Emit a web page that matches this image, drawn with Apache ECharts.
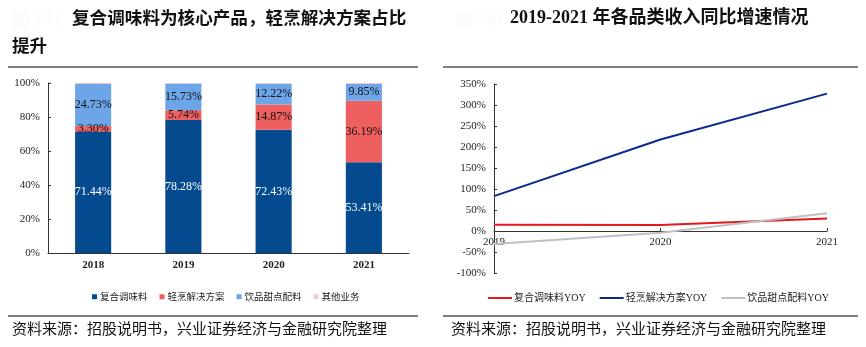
<!DOCTYPE html>
<html><head><meta charset="utf-8">
<script src="https://cdn.jsdelivr.net/npm/echarts@6/dist/echarts.min.js"></script>
<style>html,body{margin:0;padding:0;background:#fff}#c{width:866px;height:347px}</style>
</head><body><div id="c"></div>
<script>
const years = ['2018','2019','2020','2021'];
const seasoning = [71.44, 78.28, 72.43, 53.41];
const cooking = [3.30, 5.74, 14.87, 36.19];
const drinks = [24.73, 15.73, 12.22, 9.85];
const other = [0.53, 0.25, 0.48, 0.55];
const barNames = ['复合调味料','轻烹解决方案','饮品甜点配料','其他业务'];

const yoyYears = ['2019','2020','2021'];
const seasoningYoY = [15, 14, 30];
const cookingYoY = [83, 218, 327];
const drinksYoY = [-31, -4, 42];
const lineNames = ['复合调味料YOY','轻烹解决方案YOY','饮品甜点配料YOY'];

const serif = '"Liberation Serif", "Times New Roman", serif';
const cjk = '"Noto Sans CJK SC", sans-serif';
const barColors = ['#044A8F','#EE5F5F','#6CA6E8','#F7C6CE'];
const lineColors = ['#E3191C','#0B2A8C','#C0C0C0'];

const chart = echarts.init(document.getElementById('c'));
function barLabel(color){
  return {show:true, position:'inside', color:color, fontFamily:serif, fontSize:12,
    formatter: p => p.value.toFixed(2) + '%'};
}
chart.setOption({
  animation:false,
  textStyle:{fontFamily:serif},
  graphic:[
    {type:'text', left:12, top:10, style:{text:'图 34：', fill:'#fafafa', font:'bold 17px '+cjk}},
    {type:'text', left:72, top:9, style:{text:'复合调味料为核心产品，轻烹解决方案占比', fill:'#111', font:'bold 17.6px '+cjk}},
    {type:'text', left:12, top:37, style:{text:'提升', fill:'#111', font:'bold 17.6px '+cjk}},
    {type:'text', left:455, top:10, style:{text:'图 35：', fill:'#fafafa', font:'bold 17px '+cjk}},
    {type:'text', left:510, top:9, style:{text:'2019-2021 年各品类收入同比增速情况', fill:'#111', font:'bold 18px "Liberation Serif", '+cjk}},
    {type:'line', shape:{x1:8,y1:67,x2:418,y2:67}, style:{stroke:'#555', lineWidth:1.5}},
    {type:'line', shape:{x1:443,y1:67,x2:858,y2:67}, style:{stroke:'#555', lineWidth:1.5}},
    {type:'line', shape:{x1:8,y1:316,x2:418,y2:316}, style:{stroke:'#555', lineWidth:1.5}},
    {type:'line', shape:{x1:443,y1:316,x2:858,y2:316}, style:{stroke:'#555', lineWidth:1.5}},
    {type:'text', left:12, top:321, style:{text:'资料来源：招股说明书，兴业证券经济与金融研究院整理', fill:'#111', font:'15px '+cjk}},
    {type:'text', left:451, top:321, style:{text:'资料来源：招股说明书，兴业证券经济与金融研究院整理', fill:'#111', font:'15px '+cjk}}
  ],
  legend:[
    {data:barNames, left:87, top:287, itemWidth:5, itemHeight:5, itemGap:12, icon:'rect',
      textStyle:{fontFamily:cjk, fontSize:9.5, color:'#222', padding:[0,0,0,-2]}},
    {data:lineNames, left:483, top:288, itemWidth:24, itemHeight:2, itemGap:14, icon:'rect',
      textStyle:{fontFamily:'"Liberation Serif", '+cjk, fontSize:10, color:'#222', padding:[0,0,0,-3]}}
  ],
  grid:[
    {left:48, right:457, top:83, bottom:94},
    {left:494, right:39, top:84, bottom:74}
  ],
  xAxis:[
    {type:'category', gridIndex:0, data:years,
      axisLine:{lineStyle:{color:'#333'}}, axisTick:{show:false},
      axisLabel:{color:'#222', fontSize:11, fontWeight:'bold', fontFamily:serif, margin:7}},
    {type:'category', gridIndex:1, data:yoyYears, boundaryGap:false, offset:-42,
      axisLine:{onZero:false, lineStyle:{color:'#333'}}, axisTick:{show:true, inside:true, length:3, lineStyle:{color:'#333'}},
      axisLabel:{color:'#222', fontSize:11, fontFamily:serif, margin:6}}
  ],
  yAxis:[
    {type:'value', gridIndex:0, min:0, max:100, interval:20,
      axisLine:{show:true, lineStyle:{color:'#333'}}, axisTick:{show:true, inside:true, length:3},
      splitLine:{show:false},
      axisLabel:{color:'#222', fontSize:11, fontFamily:serif, formatter:'{value}%', margin:8}},
    {type:'value', gridIndex:1, min:-100, max:350, interval:50,
      axisLine:{show:true, lineStyle:{color:'#333'}}, axisTick:{show:true, inside:true, length:3},
      splitLine:{show:false},
      axisLabel:{color:'#222', fontSize:11, fontFamily:serif, formatter:'{value}%', margin:8}}
  ],
  series:[
    {name:barNames[0], type:'bar', stack:'a', xAxisIndex:0, yAxisIndex:0, data:seasoning, barWidth:'40%',
      itemStyle:{color:barColors[0]}, label:barLabel('#fff')},
    {name:barNames[1], type:'bar', stack:'a', xAxisIndex:0, yAxisIndex:0, data:cooking,
      itemStyle:{color:barColors[1]}, label:barLabel('#111')},
    {name:barNames[2], type:'bar', stack:'a', xAxisIndex:0, yAxisIndex:0, data:drinks,
      itemStyle:{color:barColors[2]}, label:barLabel('#111')},
    {name:barNames[3], type:'bar', stack:'a', xAxisIndex:0, yAxisIndex:0, data:other,
      itemStyle:{color:barColors[3]}},
    {name:lineNames[0], type:'line', xAxisIndex:1, yAxisIndex:1, data:seasoningYoY, showSymbol:false,
      lineStyle:{color:lineColors[0], width:2}, itemStyle:{color:lineColors[0]}},
    {name:lineNames[1], type:'line', xAxisIndex:1, yAxisIndex:1, data:cookingYoY, showSymbol:false,
      lineStyle:{color:lineColors[1], width:2}, itemStyle:{color:lineColors[1]}},
    {name:lineNames[2], type:'line', xAxisIndex:1, yAxisIndex:1, data:drinksYoY, showSymbol:false,
      lineStyle:{color:lineColors[2], width:2}, itemStyle:{color:lineColors[2]}}
  ]
});
</script></body></html>
